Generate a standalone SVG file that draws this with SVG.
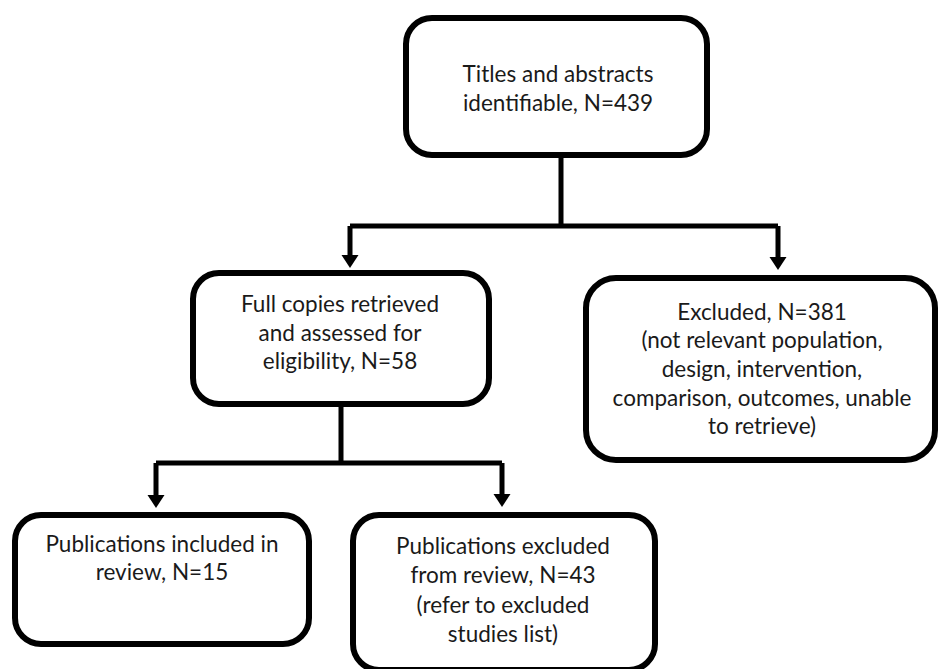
<svg xmlns="http://www.w3.org/2000/svg" width="940" height="669" viewBox="0 0 940 669">
<style>
.box{fill:#fff;stroke:#000;stroke-width:6}
.ln{fill:none;stroke:#000;stroke-width:5;stroke-linejoin:miter}
.ah{fill:#000}
text{font-family:Lato,"Open Sans",sans-serif;font-size:22.5px;fill:#1a1a1a;text-anchor:middle}
</style>
<rect width="940" height="669" fill="#fff"/>
<g id="connectors">
<path class="ln" d="M561 158 V226 M350 226 H778 M350 226 V256 M778 226 V258"/>
<polygon class="ah" points="341.5,255 358.5,255 350,268"/>
<polygon class="ah" points="769.5,257 786.5,257 778,270"/>
<path class="ln" d="M341 407 V463 M156 463 H502 M156 463 V496 M502 463 V495"/>
<polygon class="ah" points="147.5,495 164.5,495 156,508"/>
<polygon class="ah" points="493.5,494 510.5,494 502,507"/>
</g>
<g id="n1">
<rect class="box" x="406" y="18" width="301" height="137" rx="26"/>
<text x="558" y="82">Titles and abstracts</text>
<text x="558" y="111">identifiable, N=439</text>
</g>
<g id="n2">
<rect class="box" x="193" y="273" width="296" height="131" rx="26"/>
<text x="340" y="312">Full copies retrieved</text>
<text x="340" y="341">and assessed for</text>
<text x="340" y="369">eligibility, N=58</text>
</g>
<g id="n3">
<rect class="box" x="586" y="278" width="349" height="182" rx="30"/>
<text x="762" y="320">Excluded, N=381</text>
<text x="762" y="348">(not relevant population,</text>
<text x="762" y="377">design, intervention,</text>
<text x="762" y="406">comparison, outcomes, unable</text>
<text x="762" y="434">to retrieve)</text>
</g>
<g id="n4">
<rect class="box" x="15" y="515" width="294" height="129" rx="26"/>
<text x="162" y="552">Publications included in</text>
<text x="162" y="580">review, N=15</text>
</g>
<g id="n5">
<rect class="box" x="353" y="515" width="302" height="155" rx="26"/>
<text x="503" y="554">Publications excluded</text>
<text x="503" y="583">from review, N=43</text>
<text x="503" y="613">(refer to excluded</text>
<text x="503" y="642">studies list)</text>
</g>
</svg>
